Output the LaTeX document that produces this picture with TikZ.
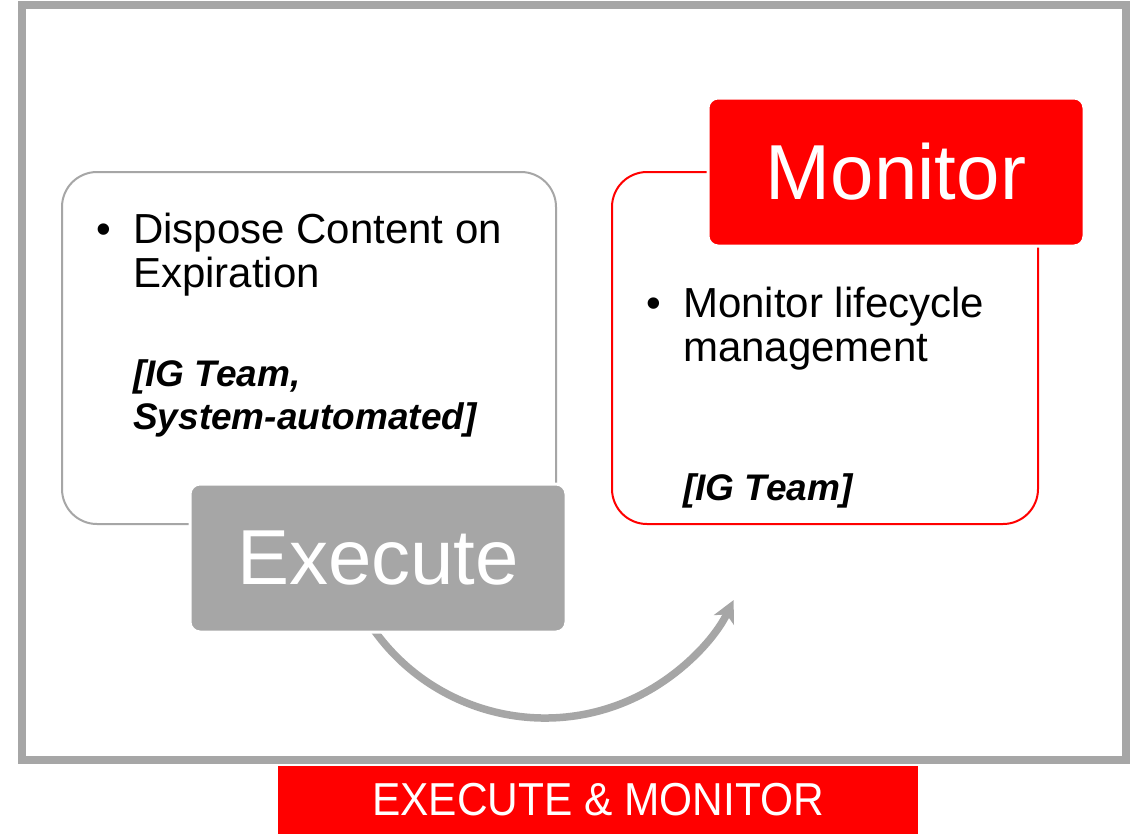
\documentclass[tikz,border=0pt]{standalone}
\usepackage{fontspec}
\setmainfont{Liberation Sans}
\usetikzlibrary{arrows.meta,backgrounds,calc}
\definecolor{cardgray}{HTML}{A6A6A6}
\definecolor{hotred}{HTML}{FF0000}

\tikzset{
  panel/.style={rounded corners=35pt, line width=2pt, fill=white,
    minimum height=352pt, inner sep=0pt},
  header/.style={rounded corners=10pt, draw=white, line width=3pt,
    minimum width=376pt, minimum height=148pt, inner sep=0pt,
    text=white, font=\fontsize{78}{80}\selectfont},
  body/.style={anchor=base west, inner sep=0pt, font=\fontsize{42}{44}\selectfont},
  note/.style={anchor=base west, inner sep=0pt,
    font=\fontsize{37}{43}\selectfont\bfseries\itshape},
  flow/.style={draw=cardgray, line width=7.5pt,
    -{Stealth[length=22pt, width=22pt, inset=6pt]}},
}

\begin{document}
\begin{tikzpicture}[x=1pt,y=-1pt]
\useasboundingbox (0,0) rectangle (1132,833);

% outer frame
\draw[cardgray, line width=8pt] (22,5) rectangle (1126,760);

% content panels
\node[panel, draw=cardgray, minimum width=494pt] (leftpanel) at (309,348) {};
\node[panel, draw=hotred, minimum width=426pt] (rightpanel) at (825,348) {};

% headers
\node[header, fill=cardgray] (execute) at (378,558) {Execute};
\node[header, fill=hotred] (monitor) at (896,172) {Monitor};

% left panel text
\node[body] (b1) at (96,243) {\textbullet};
\node[body] (l1) at (133,243) {Dispose Content on};
\node[body] (l2) at (133,287) {Expiration};
\node[note] (n1) at (133,386) {[IG Team,};
\node[note] (n2) at (133,429) {System-automated]};

% right panel text
\node[body] (b2) at (646,317) {\textbullet};
\node[body] (r1) at (683,317) {Monitor lifecycle};
\node[body] (r2) at (683,361) {management};
\node[note] (n3) at (683,500) {[IG Team]};

% curved arrow from Execute towards Monitor, tucked behind the header
\coordinate (arcstart) at ($(execute.center)+(-15,55)$);
\begin{scope}[on background layer]
  \fill[white] (0,0) rectangle (1132,833);
  \draw[flow] (arcstart) arc[start angle=150, end angle=26, radius=210];
\end{scope}

% caption banner
\node[fill=hotred, text=white, minimum width=640pt, minimum height=68pt,
  inner sep=0pt, font=\fontsize{42}{44}\selectfont] (banner) at (598,800)
  {\scalebox{1.01}[1.1]{EXECUTE \& MONITOR}};
\end{tikzpicture}
\end{document}
